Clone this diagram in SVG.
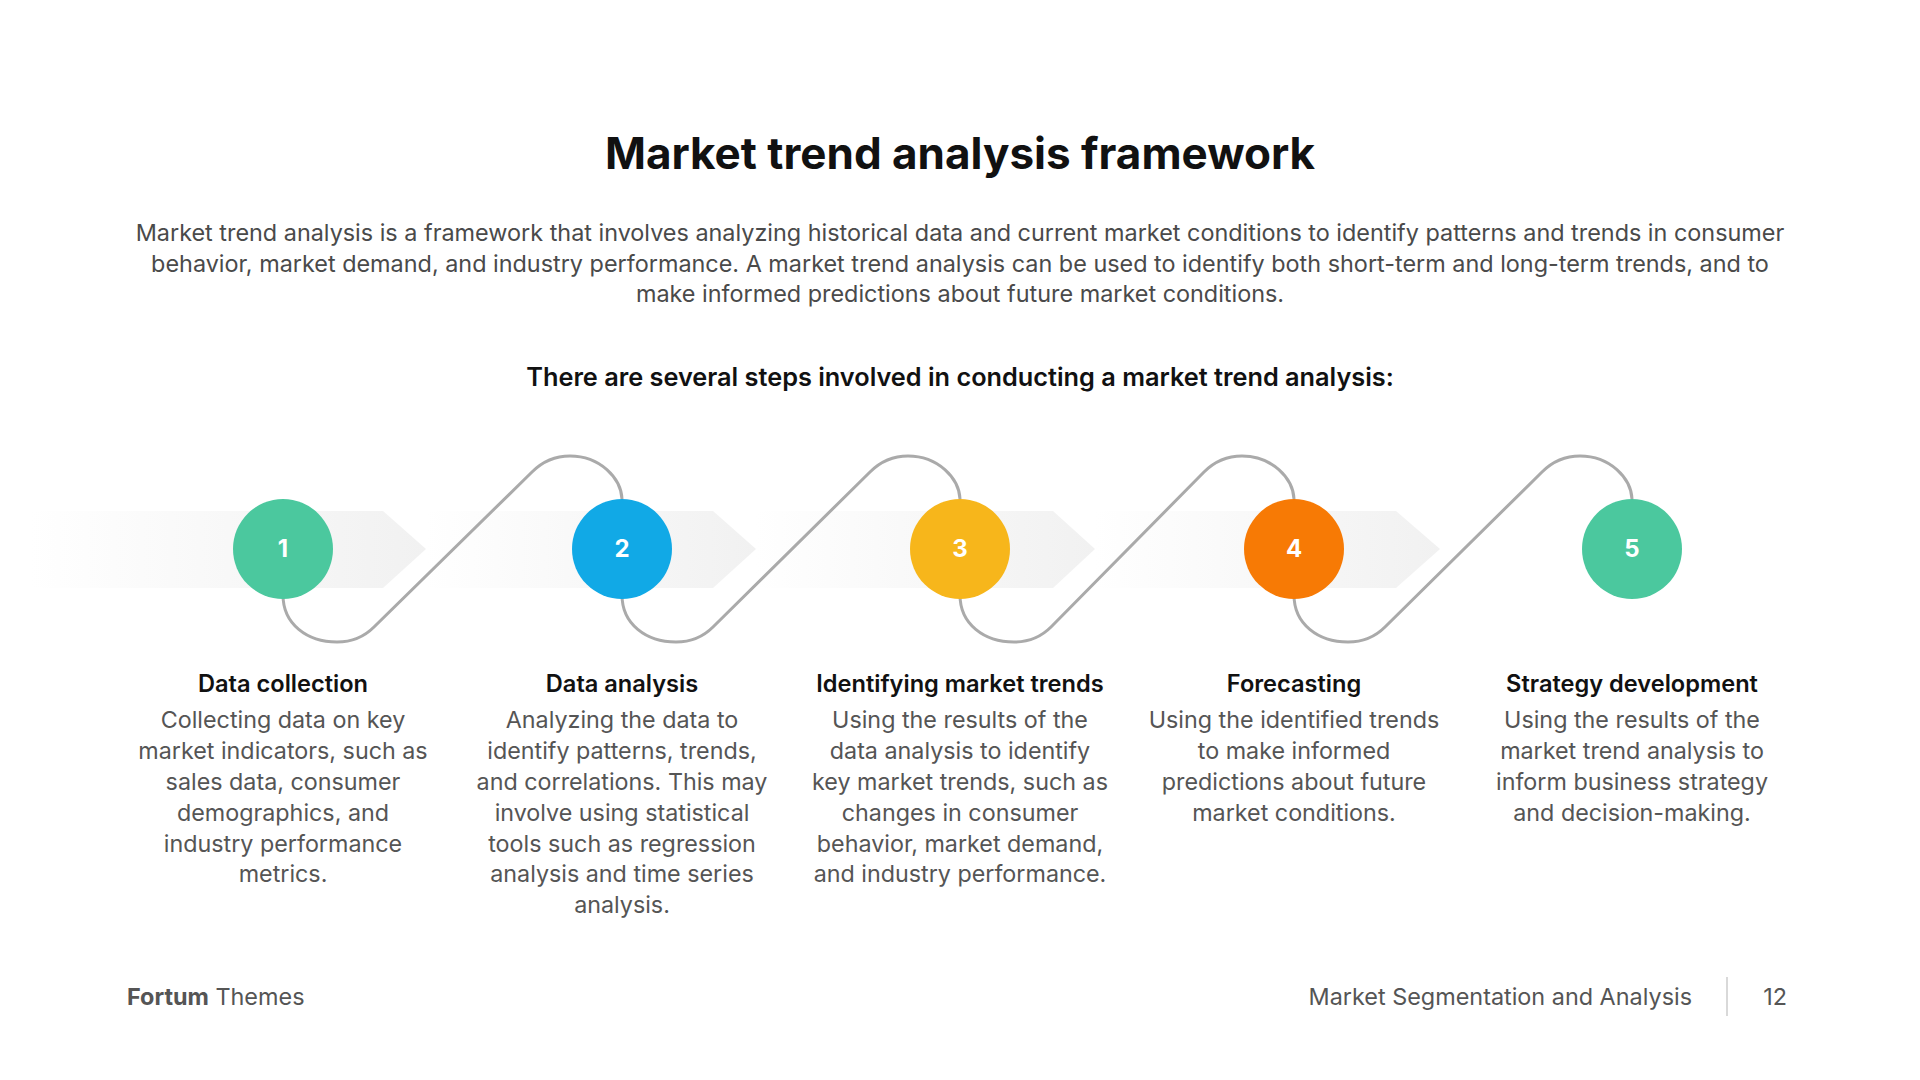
<svg xmlns="http://www.w3.org/2000/svg" width="1920" height="1080" viewBox="0 0 1920 1080">
<defs>
<linearGradient id="band" x1="0" y1="0" x2="1" y2="0">
<stop offset="0" stop-color="#ffffff"/>
<stop offset="0.5" stop-color="#f8f8f8"/>
<stop offset="1" stop-color="#f1f1f1"/>
</linearGradient>
<style>
.t{font-family:Inter,"Liberation Sans",sans-serif;text-anchor:middle}
.title{font-size:44px;font-weight:700;fill:#111}
.para{font-size:23.4px;fill:#4a4a4a}
.sub{font-size:25.3px;font-weight:600;fill:#111}
.st{font-size:23.6px;font-weight:600;fill:#111}
.d{font-size:23.3px;fill:#555}
.num{font-size:24px;font-weight:700;fill:#fff}
.wave{fill:none;stroke:#aaaaaa;stroke-width:3}
.foot{font-family:Inter,"Liberation Sans",sans-serif;font-size:23.4px;fill:#555}
</style>
</defs>
<rect width="1920" height="1080" fill="#fff"/>
<text class="t title" x="960" y="169">Market trend analysis framework</text>
<text class="t para" x="960" y="241">Market trend analysis is a framework that involves analyzing historical data and current market conditions to identify patterns and trends in consumer</text>
<text class="t para" x="960" y="272">behavior, market demand, and industry performance. A market trend analysis can be used to identify both short-term and long-term trends, and to</text>
<text class="t para" x="960" y="302">make informed predictions about future market conditions.</text>
<text class="t sub" x="960" y="386">There are several steps involved in conducting a market trend analysis:</text>
<g id="bands">
<polygon points="30,511 383,511 426,549 383,588 30,588" fill="url(#band)"/>
<polygon points="426,511 713,511 756,549 713,588 426,588" fill="url(#band)"/>
<polygon points="756,511 1053,511 1095,549 1053,588 756,588" fill="url(#band)"/>
<polygon points="1095,511 1396,511 1440,549 1396,588 1095,588" fill="url(#band)"/>
</g>
<g id="connectors">
<path class="wave" d="M283,595 C283,624 307,642 337,642 C351,642 364,637 374,627 L532,472 C542,462 555,456 570,456 C600,456 621,478 622,499"/>
<path class="wave" d="M622,595 C622,624 646,642 676,642 C690,642 703,637 713,627 L870,472 C880,462 893,456 908,456 C938,456 959,478 960,499"/>
<path class="wave" d="M960,595 C960,624 984,642 1014,642 C1028,642 1041,637 1051,627 L1204,472 C1214,462 1227,456 1242,456 C1272,456 1293,478 1294,499"/>
<path class="wave" d="M1294,595 C1294,624 1318,642 1348,642 C1362,642 1375,637 1385,627 L1542,472 C1552,462 1565,456 1580,456 C1610,456 1631,478 1632,499"/>
</g>
<g id="step1">
<circle cx="283" cy="549" r="50" fill="#4bc89e"/>
<text class="t num" x="283" y="557">1</text>
<text class="t st" x="283" y="692">Data collection</text>
<text class="t d" x="283" y="728">Collecting data on key</text>
<text class="t d" x="283" y="759">market indicators, such as</text>
<text class="t d" x="283" y="790">sales data, consumer</text>
<text class="t d" x="283" y="821">demographics, and</text>
<text class="t d" x="283" y="852">industry performance</text>
<text class="t d" x="283" y="882">metrics.</text>
</g>
<g id="step2">
<circle cx="622" cy="549" r="50" fill="#11a9e6"/>
<text class="t num" x="622" y="557">2</text>
<text class="t st" x="622" y="692">Data analysis</text>
<text class="t d" x="622" y="728">Analyzing the data to</text>
<text class="t d" x="622" y="759">identify patterns, trends,</text>
<text class="t d" x="622" y="790">and correlations. This may</text>
<text class="t d" x="622" y="821">involve using statistical</text>
<text class="t d" x="622" y="852">tools such as regression</text>
<text class="t d" x="622" y="882">analysis and time series</text>
<text class="t d" x="622" y="913">analysis.</text>
</g>
<g id="step3">
<circle cx="960" cy="549" r="50" fill="#f7b61b"/>
<text class="t num" x="960" y="557">3</text>
<text class="t st" x="960" y="692">Identifying market trends</text>
<text class="t d" x="960" y="728">Using the results of the</text>
<text class="t d" x="960" y="759">data analysis to identify</text>
<text class="t d" x="960" y="790">key market trends, such as</text>
<text class="t d" x="960" y="821">changes in consumer</text>
<text class="t d" x="960" y="852">behavior, market demand,</text>
<text class="t d" x="960" y="882">and industry performance.</text>
</g>
<g id="step4">
<circle cx="1294" cy="549" r="50" fill="#f77a05"/>
<text class="t num" x="1294" y="557">4</text>
<text class="t st" x="1294" y="692">Forecasting</text>
<text class="t d" x="1294" y="728">Using the identified trends</text>
<text class="t d" x="1294" y="759">to make informed</text>
<text class="t d" x="1294" y="790">predictions about future</text>
<text class="t d" x="1294" y="821">market conditions.</text>
</g>
<g id="step5">
<circle cx="1632" cy="549" r="50" fill="#4bc89e"/>
<text class="t num" x="1632" y="557">5</text>
<text class="t st" x="1632" y="692">Strategy development</text>
<text class="t d" x="1632" y="728">Using the results of the</text>
<text class="t d" x="1632" y="759">market trend analysis to</text>
<text class="t d" x="1632" y="790">inform business strategy</text>
<text class="t d" x="1632" y="821">and decision-making.</text>
</g>
<g id="footer">
<text class="foot" x="127" y="1005"><tspan font-weight="700">Fortum</tspan> Themes</text>
<text class="foot" x="1692" y="1005" text-anchor="end">Market Segmentation and Analysis</text>
<line x1="1727" y1="977" x2="1727" y2="1016" stroke="#cccccc" stroke-width="1.5"/>
<text class="foot" x="1787" y="1005" text-anchor="end">12</text>
</g>
</svg>
